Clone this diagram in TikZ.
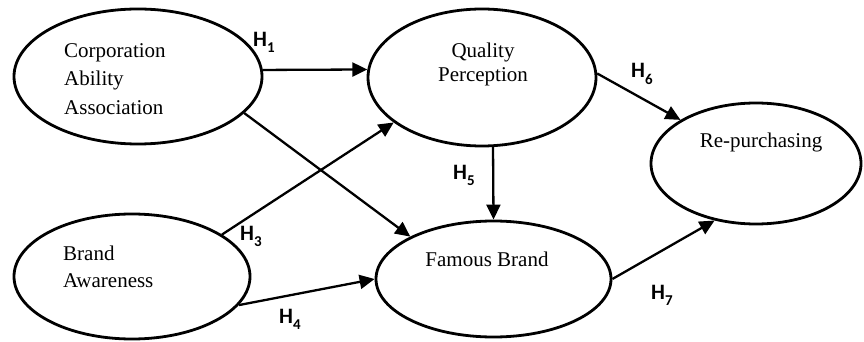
\documentclass[tikz,border=0pt]{standalone}
\usepackage{fontspec}
\setmainfont{Liberation Serif}
\newfontfamily\hfont{Carlito}
\usetikzlibrary{shapes.geometric,arrows.meta}
\newcommand{\hyp}[1]{\hfont\bfseries H\raisebox{-6pt}{\fontsize{15}{15}\selectfont #1}}
\tikzset{
  construct/.style={ellipse, draw, line width=2.8pt, inner sep=0pt},
  ctext/.style={font=\fontsize{21}{28}\selectfont, inner sep=0pt},
  link/.style={line width=2.3pt, -{Triangle[length=15pt,width=14pt]}},
  hlab/.style={font=\fontsize{22}{22}\selectfont, inner sep=0pt, anchor=base west}
}
\begin{document}
\begin{tikzpicture}[x=1pt,y=-1pt]
\useasboundingbox (0,0) rectangle (864,342);
% ellipses
\node[construct, minimum width=248pt, minimum height=135pt] (cap) at (138,76.5) {};
\node[construct, minimum width=228pt, minimum height=137pt] (qp) at (482,77.5) {};
\node[construct, minimum width=210pt, minimum height=121pt] (rp) at (756,163.5) {};
\node[construct, minimum width=236pt, minimum height=125pt] (ba) at (132,276.5) {};
\node[construct, minimum width=235pt, minimum height=116pt] (fb) at (493.5,279) {};
% texts
\node[ctext, anchor=base west] (t1) at (64,58) {Corporation};
\node[ctext, anchor=base west] (t2) at (64,86) {Ability};
\node[ctext, anchor=base west] (t3) at (64,114) {Association};
\node[ctext, anchor=base] (t4) at (483,58) {Quality};
\node[ctext, anchor=base] (t5) at (483,82) {Perception};
\node[ctext, anchor=base] (t6) at (761,147) {Re-purchasing};
\node[ctext, anchor=base west] (t7) at (63,260) {Brand};
\node[ctext, anchor=base west] (t8) at (63,287) {Awareness};
\node[ctext, anchor=base] (t9) at (487,266) {Famous Brand};
% connectors
\draw[link] (cap.3.5) -- (qp.176);
\draw[link] (cap.-19.8) -- (fb.153);
\draw[link] (ba.25.3) -- (qp.207.8);
\draw[link] (ba.-15.6) -- (fb.180);
\draw[link] (qp.-81) -- (fb.north);
\draw[link] (qp.2.7) -- (rp.150.7);
\draw[link] (fb.0) -- (rp.234.5);
% hypothesis labels
\node[hlab] (h1) at (253,47) {\hyp{1}};
\node[hlab] (h3) at (240,240) {\hyp{3}};
\node[hlab] (h4) at (279,323) {\hyp{4}};
\node[hlab] (h5) at (453,179) {\hyp{5}};
\node[hlab] (h6) at (631,78) {\hyp{6}};
\node[hlab] (h7) at (651,299) {\hyp{7}};
\end{tikzpicture}
\end{document}
